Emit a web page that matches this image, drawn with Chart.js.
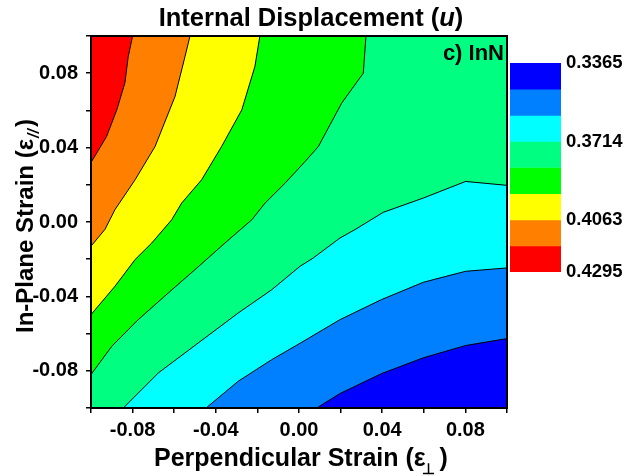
<!DOCTYPE html>
<html>
<head>
<meta charset="utf-8">
<script src="https://cdn.jsdelivr.net/npm/chart.js@4.4.1/dist/chart.umd.min.js"></script>
<style>
  html, body { margin: 0; padding: 0; background: #fff; }
  #wrap { position: relative; width: 625px; height: 476px; }
  #wrap canvas { position: absolute; left: 0; top: 0; }
  #bar { pointer-events: none; }
</style>
</head>
<body>
<div id="wrap">
  <canvas id="map" width="625" height="476"></canvas>
  <canvas id="bar" width="625" height="476"></canvas>
</div>
<script>
// уровни u (снизу вверх по значению) и цвета полос между ними
const levels = [0.3365, 0.3481, 0.3598, 0.3714, 0.3830, 0.3946, 0.4063, 0.4179, 0.4295];
const bandColors = ["#0000ff", "#0080ff", "#00ffff", "#00ff80", "#00ff00", "#ffff00", "#ff8000", "#ff0000"];
const barLabels = [0.3365, 0.3714, 0.4063, 0.4295];
const xLabeled = [-0.08, -0.04, 0, 0.04, 0.08];
const yLabeled = [-0.08, -0.04, 0, 0.04, 0.08];

// изолинии: точки (eps_perp, eps_par)
const line4179 = [[-0.1, 0.032], [-0.0973, 0.037], [-0.0925, 0.046], [-0.0876, 0.0603], [-0.0837, 0.0748], [-0.0821, 0.0889], [-0.080, 0.1]];
const line4063 = [[-0.1, -0.013], [-0.0933, -0.004], [-0.0885, 0.0066], [-0.0788, 0.0227], [-0.0692, 0.0406], [-0.0596, 0.0675], [-0.0548, 0.089], [-0.0524, 0.1]];
const line3946 = [[-0.1, -0.0498], [-0.0885, -0.0346], [-0.0788, -0.0202], [-0.0708, -0.0113], [-0.0612, 0.0012], [-0.0564, 0.0102], [-0.0468, 0.0227], [-0.0372, 0.0406], [-0.0275, 0.0603], [-0.0212, 0.0836], [-0.0188, 0.1]];
const line3830 = [[-0.1, -0.082], [-0.09, -0.0668], [-0.0773, -0.0525], [-0.0628, -0.0381], [-0.05, -0.0256], [-0.0356, -0.0113], [-0.0227, 0.0012], [-0.0163, 0.0102], [-0.0067, 0.0209], [0.0029, 0.0325], [0.0093, 0.0406], [0.0205, 0.0639], [0.0309, 0.08], [0.0322, 0.1]];
const line3714 = [[-0.0845, -0.1], [-0.0676, -0.0811], [-0.0484, -0.065], [-0.0292, -0.0489], [-0.0131, -0.0364], [0.0005, -0.0238], [0.0069, -0.0193], [0.0197, -0.0086], [0.0269, -0.0041], [0.0405, 0.0052], [0.0598, 0.0129], [0.0801, 0.0218], [0.1, 0.0197]];
const line3598 = [[-0.0447, -0.1], [-0.0292, -0.0856], [-0.0131, -0.074], [0.0005, -0.0652], [0.0197, -0.0525], [0.0397, -0.0417], [0.0598, -0.0324], [0.0801, -0.0265], [0.1, -0.0247]];
const line3481 = [[0.0085, -0.1], [0.0197, -0.0922], [0.0397, -0.0815], [0.0598, -0.073], [0.0801, -0.0664], [0.1, -0.0627]];

// изолиния -> индекс уровня в levels
const contours = [
  { lvl: 7, pts: line4179 },
  { lvl: 6, pts: line4063 },
  { lvl: 5, pts: line3946 },
  { lvl: 4, pts: line3830 },
  { lvl: 3, pts: line3714 },
  { lvl: 2, pts: line3598 },
  { lvl: 1, pts: line3481 },
];

const lim = 0.1;
const bold = (px) => `bold ${px}px "Liberation Sans", Arial, sans-serif`;

// дотягиваем линию до углов, чтобы заливка вниз закрыла всю область
function toEdges(pts) {
  const d = pts.map(([x, y]) => ({ x, y }));
  if (d[0].x > -lim) d.unshift({ x: -lim, y: -lim });
  if (d[d.length - 1].x < lim) d.push({ x: lim, y: lim });
  return d;
}

const datasets = [
  {
    // верхняя (красная) область
    data: [{ x: -lim, y: lim }, { x: lim, y: lim }],
    fill: "start",
    backgroundColor: bandColors[7],
    borderWidth: 0,
    order: 20,
  },
  ...contours.map((c) => ({
    data: toEdges(c.pts),
    fill: "start",
    backgroundColor: bandColors[c.lvl - 1],
    borderColor: "#000",
    borderWidth: 1,
    order: c.lvl, // большие order рисуются раньше
  })),
];

function drawRuns(ctx, runs, x, y) {
  let cx = x;
  for (const r of runs) {
    ctx.font = r.font;
    ctx.fillText(r.text, cx + (r.dx || 0), y + (r.dy || 0));
    cx += ctx.measureText(r.text).width + (r.dx || 0);
  }
}
function runsWidth(ctx, runs) {
  let w = 0;
  for (const r of runs) {
    ctx.font = r.font;
    w += ctx.measureText(r.text).width + (r.dx || 0);
  }
  return w;
}

// фон, рамка и подписи
const decor = {
  id: "decor",
  beforeDraw(chart) {
    const ctx = chart.ctx;
    ctx.save();
    ctx.fillStyle = "#fff";
    ctx.fillRect(0, 0, chart.width, chart.height);
    ctx.restore();
  },
  afterDatasetsDraw(chart) {
    const { ctx, chartArea: a } = chart;
    ctx.save();
    ctx.strokeStyle = "#000";
    ctx.lineWidth = 2;
    ctx.strokeRect(a.left, a.top, a.right - a.left, a.bottom - a.top);
    ctx.restore();
  },
  afterDraw(chart) {
    const ctx = chart.ctx;
    ctx.save();
    ctx.fillStyle = "#000";
    ctx.textBaseline = "alphabetic";
    ctx.textAlign = "left";

    // заголовок
    const title = [
      { text: "Internal Displacement (", font: bold(25.5) },
      { text: "u", font: "italic " + bold(25.5) },
      { text: ")", font: bold(25.5) },
    ];
    drawRuns(ctx, title, 311 - runsWidth(ctx, title) / 2, 26);

    // подпись оси X
    const xt = [
      { text: "Perpendicular Strain (ε", font: bold(25) },
      { text: "⊥", font: bold(15), dx: -4, dy: 8 },
      { text: " )", font: bold(25), dx: -2 },
    ];
    drawRuns(ctx, xt, 154, 466);

    // подпись оси Y
    ctx.save();
    ctx.translate(33, 333);
    ctx.rotate(-Math.PI / 2);
    const yt = [
      { text: "In-Plane Strain (ε", font: bold(24) },
      { text: "//", font: "italic " + bold(16), dx: 1, dy: 6 },
      { text: ")", font: bold(24), dx: 2 },
    ];
    drawRuns(ctx, yt, 0, 0);
    ctx.restore();

    // метка панели
    ctx.font = bold(22);
    ctx.textAlign = "right";
    ctx.fillText("c) InN", 504, 60);
    ctx.restore();
  },
};

const axisCommon = {
  type: "linear",
  min: -lim,
  max: lim,
  grid: { display: true, drawOnChartArea: false, drawTicks: true, tickLength: 5, color: "#000", lineWidth: 1.5 },
  border: { display: true, color: "#000", width: 2 },
};
const tickFont = { family: '"Liberation Sans", Arial, sans-serif', size: 20, weight: "bold" };

new Chart(document.getElementById("map"), {
  type: "scatter",
  data: { datasets },
  options: {
    responsive: false,
    animation: false,
    showLine: true,
    layout: { padding: { left: 0, top: 36, right: 118, bottom: 0 } },
    plugins: { legend: { display: false }, tooltip: { enabled: false } },
    elements: { point: { radius: 0 }, line: { tension: 0 } },
    scales: {
      x: {
        ...axisCommon,
        afterFit: (s) => { s.height = 68; },
        ticks: {
          stepSize: 0.02,
          autoSkip: false,
          maxRotation: 0,
          padding: 5,
          color: "#000",
          font: tickFont,
          callback: (v) => (xLabeled.some((t) => Math.abs(t - v) < 1e-6) ? v.toFixed(2) : ""),
        },
      },
      y: {
        ...axisCommon,
        afterFit: (s) => { s.width = 91; },
        ticks: {
          stepSize: 0.02,
          autoSkip: false,
          padding: 8,
          color: "#000",
          font: tickFont,
          callback: (v) => (yLabeled.some((t) => Math.abs(t - v) < 1e-6) ? v.toFixed(2) : ""),
        },
      },
    },
  },
  plugins: [decor],
});

// шкала цветов справа
new Chart(document.getElementById("bar"), {
  type: "bar",
  data: {
    labels: ["u"],
    datasets: bandColors.map((c, i) => ({
      data: [[levels[i], levels[i + 1]]],
      backgroundColor: c,
      borderWidth: 0,
      barPercentage: 1,
      categoryPercentage: 1,
      grouped: false,
    })),
  },
  options: {
    responsive: false,
    animation: false,
    layout: { padding: { left: 510, top: 63, right: 0, bottom: 204 } },
    plugins: { legend: { display: false }, tooltip: { enabled: false } },
    scales: {
      x: { display: false },
      y: {
        position: "right",
        reverse: true,
        min: levels[0],
        max: levels[levels.length - 1],
        grid: { display: false, drawTicks: false },
        border: { display: false },
        afterBuildTicks: (s) => { s.ticks = barLabels.map((v) => ({ value: v })); },
        afterFit: (s) => { s.width = 64; },
        ticks: {
          padding: 5,
          color: "#000",
          font: { family: '"Liberation Sans", Arial, sans-serif', size: 18.5, weight: "bold" },
          callback: (v) => v.toFixed(4),
        },
      },
    },
  },
});
</script>
</body>
</html>
